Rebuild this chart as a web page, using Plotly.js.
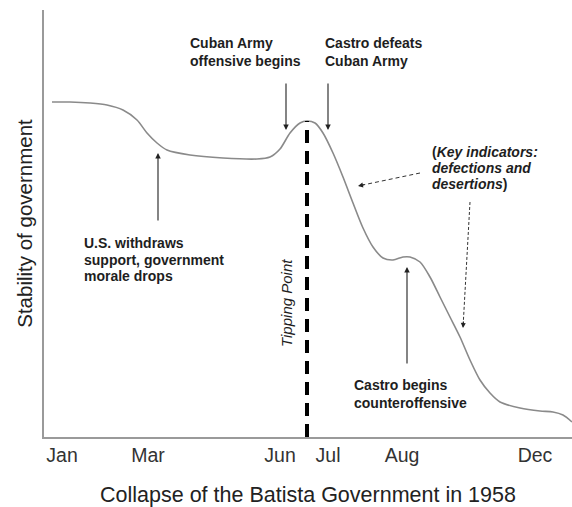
<!DOCTYPE html>
<html>
<head>
<meta charset="utf-8">
<script src="https://cdn.plot.ly/plotly-3.0.1.min.js"></script>
<style>html,body{margin:0;padding:0;background:#fff;}#chart{width:572px;height:507px;}</style>
</head>
<body>
<div id="chart"></div>
<script>
// ---- data (arbitrary timeline units vs. relative stability) ----
const monthLabels = ['Jan', 'Mar', 'Jun', 'Jul', 'Aug', 'Dec'];
const monthPos = [18, 104, 236, 284, 358, 491];

const timeline = [8, 26, 46, 63, 79, 93, 103, 113, 123, 146, 179, 213, 226, 236, 246, 256, 263, 271, 279, 289, 299, 309, 319, 329, 339, 349, 359, 366, 376, 386, 396, 406, 416, 426, 436, 446, 456, 476, 496, 509, 519, 528];
const stability = [335, 335, 334, 332, 327, 317, 304, 294, 287, 282, 279, 278, 280, 288, 304, 314, 316, 314, 304, 284, 260, 234, 209, 190, 179, 177, 180, 180, 175, 160, 140, 120, 100, 77, 57, 44, 35, 29, 26, 25, 22, 15];

const tippingPointX = 263;
const tippingPointTop = 316;

// event notes: text lines, arrow head and tail
const eventLines = [
  ['Cuban Army', 'offensive begins'],
  ['Castro defeats', 'Cuban Army'],
  ['U.S. withdraws', 'support, government', 'morale drops'],
  ['Castro begins', 'counteroffensive']
];
const eventHeadX = [242, 284, 114, 363];
const eventHeadY = [307, 307, 284, 170];
const eventTailX = [242, 284, 114, 363];
const eventTailY = [355, 355, 215, 72];

const noteLines = ['(<i>Key indicators:</i>', '<i>defections and</i>', '<i>desertions</i>)'];
const noteHeadX = [314, 419];
const noteHeadY = [251, 109];
const noteTailX = [376, 426];
const noteTailY = [264, 235];

// ---- styling / layout ----
const FONT = 'Liberation Sans, Arial, sans-serif';
const TXT = '#1e1e1e';

// text block placement (left edge, first-line y, line step) in axis units
const eventTextPos = [
  {x: 144, y: 394, step: 18},
  {x: 279, y: 394, step: 18},
  {x: 38, y: 194, step: 16.5},
  {x: 308, y: 52, step: 18}
];
const notePos = {x: 386, y: 285, step: 16};

const annotations = [];
eventLines.forEach((lines, i) => {
  const p = eventTextPos[i];
  lines.forEach((t, j) => {
    annotations.push({
      x: p.x, y: p.y - j * p.step, xref: 'x', yref: 'y',
      text: t, showarrow: false, xanchor: 'left', yanchor: 'middle',
      font: {family: FONT, size: 14, color: TXT, weight: 'bold'}
    });
  });
  annotations.push({
    x: eventHeadX[i], y: eventHeadY[i], ax: eventTailX[i], ay: eventTailY[i],
    xref: 'x', yref: 'y', axref: 'x', ayref: 'y', text: '',
    showarrow: true, arrowhead: 2, arrowsize: 1, arrowwidth: 1.1, arrowcolor: '#222', standoff: 0
  });
});
noteLines.forEach((t, j) => {
  annotations.push({
    x: notePos.x, y: notePos.y - j * notePos.step, xref: 'x', yref: 'y',
    text: t, showarrow: false, xanchor: 'left', yanchor: 'middle',
    font: {family: FONT, size: 14, color: TXT, weight: 'bold'}
  });
});

const shapes = [{
  type: 'line', xref: 'x', yref: 'y',
  x0: tippingPointX, x1: tippingPointX, y0: 0, y1: tippingPointTop,
  line: {color: '#000', width: 4, dash: '13px,8px'}
}];
const noteDash = ['4px,3px', '3px,2px'];
noteHeadX.forEach((hx, i) => {
  const dx = noteTailX[i] - hx, dy = noteTailY[i] - noteHeadY[i];
  const n = Math.hypot(dx, dy);
  shapes.push({
    type: 'line', xref: 'x', yref: 'y',
    x0: noteTailX[i], y0: noteTailY[i], x1: hx + 4 * dx / n, y1: noteHeadY[i] + 4 * dy / n,
    line: {color: '#333', width: 1, dash: noteDash[i]}
  });
  annotations.push({
    x: hx, y: noteHeadY[i], ax: 8 * dx / n, ay: -8 * dy / n,
    xref: 'x', yref: 'y', text: '', showarrow: true,
    arrowhead: 2, arrowsize: 1, arrowwidth: 1, arrowcolor: '#222', standoff: 0
  });
});

annotations.push({
  x: tippingPointX - 21, y: 134, xref: 'x', yref: 'y',
  text: '<i>Tipping Point</i>', textangle: -90, showarrow: false,
  xanchor: 'center', yanchor: 'middle',
  font: {family: FONT, size: 15, color: TXT}
});

const trace = {
  x: timeline, y: stability, type: 'scatter', mode: 'lines',
  line: {color: '#8a8a8a', width: 1.6, shape: 'spline', smoothing: 0.8},
  hoverinfo: 'skip'
};

const layout = {
  width: 572, height: 507,
  margin: {l: 44, r: 0, t: 10, b: 70},
  paper_bgcolor: '#fff', plot_bgcolor: '#fff',
  showlegend: false,
  font: {family: FONT, color: '#333'},
  xaxis: {
    range: [0, 528], showgrid: false, zeroline: false,
    showline: true, linecolor: '#9a9a9a', linewidth: 2,
    ticks: '', tickmode: 'array', tickvals: monthPos, ticktext: monthLabels,
    tickfont: {family: FONT, size: 19.5, color: '#333'},
    title: {text: 'Collapse of the Batista Government in 1958', font: {family: FONT, size: 21.5, color: '#222'}, standoff: 33},
    fixedrange: true
  },
  yaxis: {
    range: [0, 427], showgrid: false, zeroline: false,
    showline: true, linecolor: '#9a9a9a', linewidth: 2,
    showticklabels: false, ticks: '',
    title: {text: 'Stability of government', font: {family: FONT, size: 20.5, color: '#222'}, standoff: 4},
    fixedrange: true
  },
  shapes: shapes,
  annotations: annotations
};

Plotly.newPlot('chart', [trace], layout, {displayModeBar: false, staticPlot: true});
</script>
</body>
</html>
